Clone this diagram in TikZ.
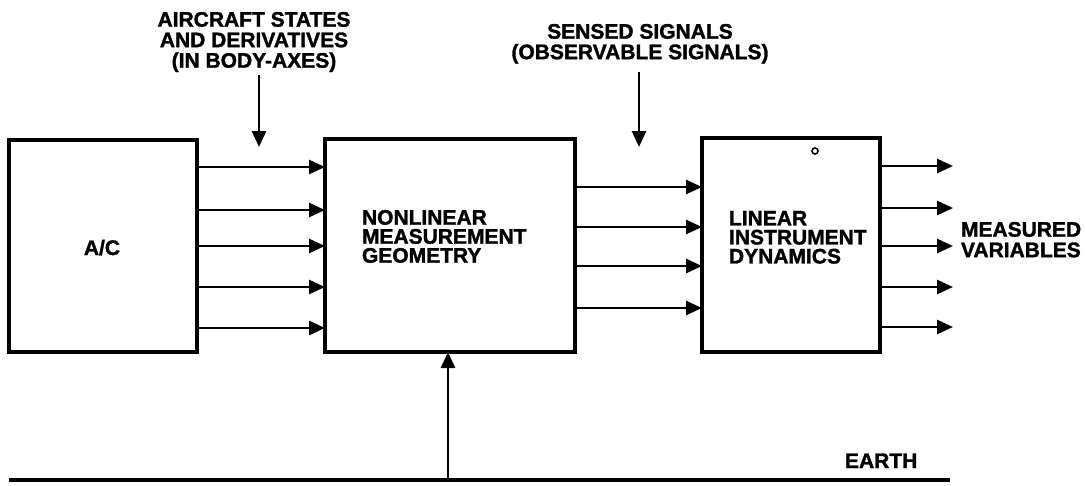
\documentclass[tikz,border=0pt]{standalone}
\usepackage{fontspec}
\setmainfont{Liberation Sans}[BoldFeatures={FakeBold=1.5}]
\usetikzlibrary{arrows.meta}
\tikzset{
  blk/.style={draw, line width=3.2pt, inner sep=0pt, outer sep=0pt, anchor=north west},
  arr/.style={line width=2.8pt, -{Triangle[length=16pt,width=14pt]}},
  lbl/.style={inner sep=0pt, outer sep=0pt, font=\fontsize{21}{20.5}\selectfont\bfseries},
  lblt/.style={inner sep=0pt, outer sep=0pt, font=\fontsize{21}{19}\selectfont\bfseries},
}
\begin{document}
\begin{tikzpicture}[x=1pt,y=-1pt]
\useasboundingbox[fill=white] (0,0) rectangle (1085,485);

% blocks
\node[blk, minimum width=188pt, minimum height=212pt] (ac) at (9,140) {};
\node[blk, minimum width=250pt, minimum height=213pt] (nmg) at (325,139) {};
\node[blk, minimum width=178pt, minimum height=214pt] (lid) at (702,138) {};

% block labels
\node[lbl, anchor=base] (aclbl) at (102,255) {A/C};
\node[lblt, anchor=north west, align=left] (nmglbl) at (362,210) {NONLINEAR\\MEASUREMENT\\GEOMETRY};
\node[lblt, anchor=north west, align=left] (lidlbl) at (729,211) {LINEAR\\INSTRUMENT\\DYNAMICS};
\node[circle, draw, line width=1.6pt, inner sep=0pt, minimum size=6pt] (dot) at (815,151) {};

% top labels
\node[lbl, anchor=north, align=center] (states) at (254,12) {AIRCRAFT STATES\\AND DERIVATIVES\\(IN BODY-AXES)};
\node[lbl, anchor=north, align=center] (sensed) at (640,24) {SENSED SIGNALS\\(OBSERVABLE SIGNALS)};
\node[lbl, anchor=north west, align=left] (meas) at (961,222) {MEASURED\\VARIABLES};
\node[lbl, anchor=base west] (earth) at (845,468) {EARTH};

% down arrows
\coordinate (s1a) at (259,75);
\coordinate (s1b) at (259,147);
\coordinate (s2a) at (639,72);
\coordinate (s2b) at (639,147);
\draw[arr] (s1a) -- (s1b);
\draw[arr] (s2a) -- (s2b);

% A/C -> NMG
\foreach \y in {167,210,246,287,328}
  \draw[arr] (ac.east |- 0,\y) -- (nmg.west |- 0,\y);

% NMG -> LID
\foreach \y in {187,227,266,308}
  \draw[arr] (nmg.east |- 0,\y) -- (lid.west |- 0,\y);

% outputs
\foreach \y in {166,208,246,287,327}
  \draw[arr] (lid.east |- 0,\y) -- (953,\y);

% earth
\coordinate (e1) at (9,480);
\coordinate (e2) at (950,480);
\coordinate (eu) at (448,480);
\draw[line width=3.2pt] (e1) -- (e2);
\draw[arr] (eu) -- (eu |- nmg.south);
\end{tikzpicture}
\end{document}
